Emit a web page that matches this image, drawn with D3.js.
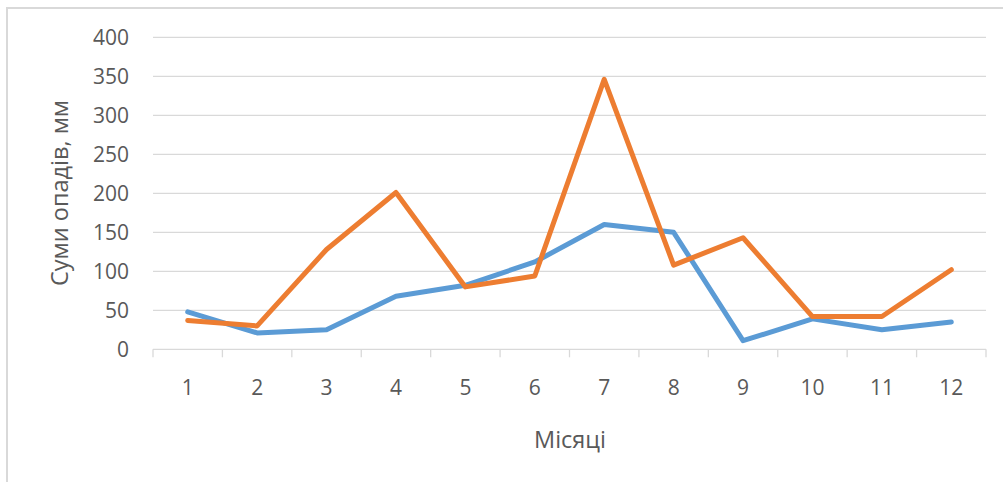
<!DOCTYPE html>
<html>
<head>
<meta charset="utf-8">
<script src="https://cdn.jsdelivr.net/npm/d3@7"></script>
<style>
  html, body { margin: 0; padding: 0; background: #fff; }
  svg { display: block; font-family: "Open Sans", "Liberation Sans", sans-serif; }
</style>
</head>
<body>
<svg id="chart" width="1003" height="482"></svg>
<script>
// Monthly precipitation totals, mm
const months = ["1", "2", "3", "4", "5", "6", "7", "8", "9", "10", "11", "12"];
const seriesBlue = [48, 21, 25, 68, 82, 112, 160, 150, 11, 39, 25, 35];
const seriesOrange = [37, 30, 128, 201, 80, 94, 346, 108, 143, 42, 42, 102];
const yTicks = [0, 50, 100, 150, 200, 250, 300, 350, 400];

const svg = d3.select("#chart");
const margin = { left: 153, right: 986, top: 37.3, bottom: 349.3 };

// Chart frame
svg.append("rect")
  .attr("x", 7).attr("y", 8)
  .attr("width", 1010).attr("height", 490)
  .attr("fill", "none").attr("stroke", "#D9D9D9").attr("stroke-width", 2);

const x = d3.scaleBand().domain(months).range([margin.left, margin.right]);
const y = d3.scaleLinear().domain([0, 400]).range([margin.bottom, margin.top]);

// Horizontal gridlines
svg.append("g").selectAll("line")
  .data(yTicks.filter(d => d > 0))
  .join("line")
  .attr("x1", margin.left).attr("x2", margin.right)
  .attr("y1", d => y(d)).attr("y2", d => y(d))
  .attr("stroke", "#D9D9D9").attr("stroke-width", 1.3);

// Y axis labels
const yAxis = d3.axisLeft(y).tickValues(yTicks).tickSize(0).tickPadding(0);
const gy = svg.append("g").attr("transform", `translate(129,0)`).call(yAxis);
gy.select(".domain").remove();
gy.selectAll("text")
  .attr("fill", "#595959").attr("font-size", 21).attr("dy", "0.35em")
  .attr("font-family", "\"Open Sans\", sans-serif");

// X axis with tick marks between categories
const gx = svg.append("g");
gx.append("line")
  .attr("x1", margin.left).attr("x2", margin.right)
  .attr("y1", y(0)).attr("y2", y(0))
  .attr("stroke", "#D9D9D9").attr("stroke-width", 1.3);
const bounds = months.map(m => x(m)).concat([x(months[months.length - 1]) + x.bandwidth()]);
gx.selectAll("line.tick")
  .data(bounds)
  .join("line").attr("class", "tick")
  .attr("x1", d => d).attr("x2", d => d)
  .attr("y1", y(0)).attr("y2", y(0) + 8)
  .attr("stroke", "#D9D9D9").attr("stroke-width", 1.3);
const xAxis = d3.axisBottom(x).tickSize(0).tickPadding(0);
const gxl = svg.append("g").attr("transform", `translate(0,388)`).call(xAxis);
gxl.select(".domain").remove();
gxl.selectAll("text")
  .attr("fill", "#595959").attr("font-size", 21).attr("dy", "0.35em")
  .attr("font-family", "\"Open Sans\", sans-serif");

// Series lines
const line = d3.line()
  .x((d, i) => x(months[i]) + x.bandwidth() / 2)
  .y(d => y(d));

svg.append("path")
  .datum(seriesBlue)
  .attr("d", line)
  .attr("fill", "none").attr("stroke", "#5B9BD5")
  .attr("stroke-width", 5).attr("stroke-linejoin", "round").attr("stroke-linecap", "round");

svg.append("path")
  .datum(seriesOrange)
  .attr("d", line)
  .attr("fill", "none").attr("stroke", "#ED7D31")
  .attr("stroke-width", 5).attr("stroke-linejoin", "round").attr("stroke-linecap", "round");

// Axis titles
svg.append("text")
  .attr("x", 570).attr("y", 440)
  .attr("text-anchor", "middle").attr("dy", "0.35em")
  .attr("fill", "#595959").attr("font-size", 23.5)
  .text("Місяці");

svg.append("text")
  .attr("transform", `translate(60,193) rotate(-90)`)
  .attr("text-anchor", "middle").attr("dy", "0.35em")
  .attr("fill", "#595959").attr("font-size", 23.5)
  .text("Суми опадів, мм");
</script>
</body>
</html>
